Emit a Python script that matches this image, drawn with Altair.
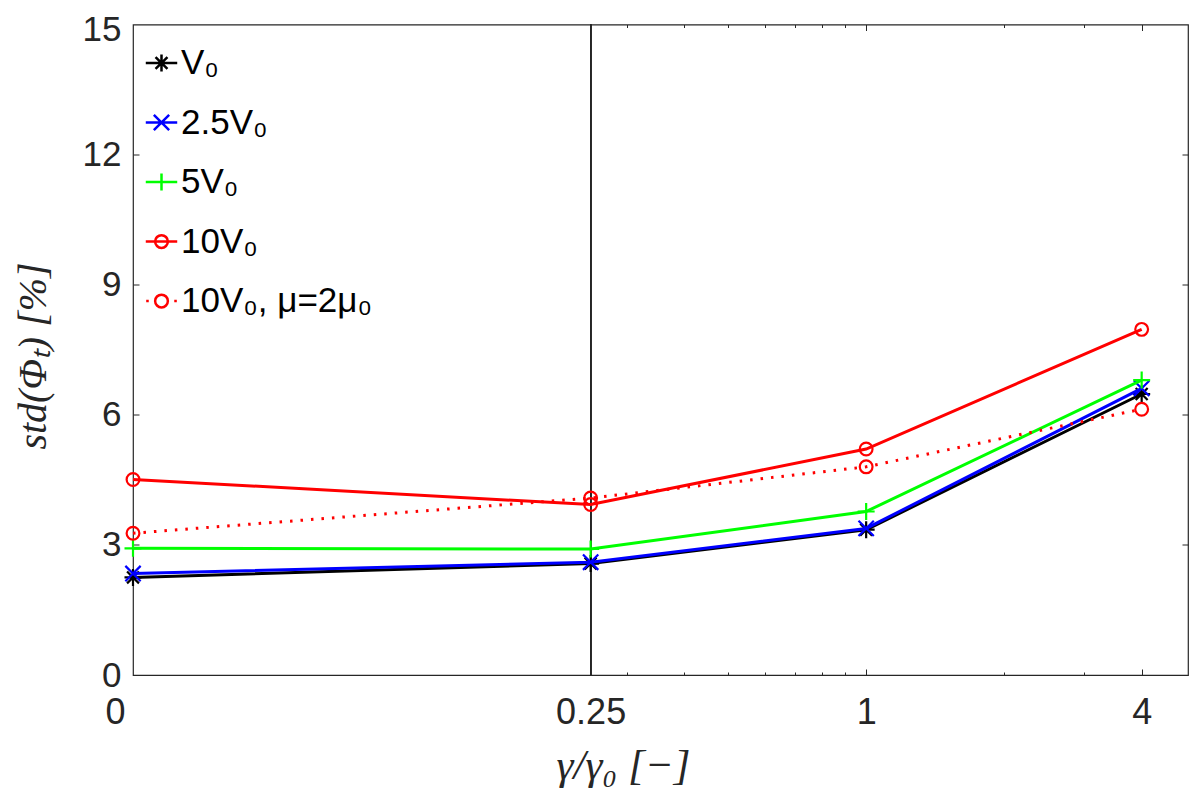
import altair as alt
import pandas as pd

# ---- data ----
series = ["V₀", "2.5V₀", "5V₀", "10V₀", "10V₀, μ=2μ₀"]
x_vals = [0.025, 0.25, 1, 4]          # first position is the "0" case drawn at the left edge
x_labels = ["0", "0.25", "1", "4"]
y_v0 = [2.25, 2.57, 3.35, 6.48]
y_25v0 = [2.34, 2.60, 3.38, 6.61]
y_5v0 = [2.92, 2.905, 3.77, 6.80]
y_10v0 = [4.51, 3.93, 5.21, 7.97]
y_10v0_mu = [3.27, 4.08, 4.80, 6.13]
colors = ["#000000", "#0000ff", "#00ff00", "#ff0000", "#ff0000"]
y_ticks = [0, 3, 6, 9, 12, 15]
x_major_ticks = [1, 4]
x_minor_ticks = [0.3, 0.4, 0.5, 0.6, 0.7, 0.8, 0.9, 2, 3]
y_inner_ticks = [3, 6, 9, 12]

all_y = [y_v0, y_25v0, y_5v0, y_10v0, y_10v0_mu]
rows = []
for s, ys in zip(series, all_y):
    for x, y in zip(x_vals, ys):
        rows.append({"series": s, "x": x, "y": y})
df = pd.DataFrame(rows)

# ---- styling ----
circle = "M0.75,0A0.75,0.75,0,1,1,-0.75,0A0.75,0.75,0,1,1,0.75,0Z"
marker_paths = [
    "M0,-1L0,1M-1,0L1,0M-0.7,-0.7L0.7,0.7M-0.7,0.7L0.7,-0.7",
    "M-0.9,-0.9L0.9,0.9M-0.9,0.9L0.9,-0.9",
    "M0,-1L0,1M-1,0L1,0",
    circle,
    circle,
]
seg = "M-1.85,0L1.85,0"
dots = "M-1.8,0L-1.5,0M1.5,0L1.8,0"
legend_paths = [seg + p for p in marker_paths[:4]] + [dots + marker_paths[4]]
dashes = [None, None, None, None, [2.5, 8]]

xscale = alt.Scale(type="log", domain=[0.025, 5.05])
yscale = alt.Scale(domain=[0, 15], nice=False, zero=False)
cscale = alt.Scale(domain=series, range=colors)
AX = "#262626"

lab_expr = ""
for v, l in zip(x_vals, x_labels):
    lab_expr += f"abs(datum.value - {v}) < 1e-9 ? '{l}' : "
lab_expr += "''"

x_label_axis = alt.Axis(
    values=x_vals, labelExpr=lab_expr, ticks=False, domain=False, grid=False,
    labelFont="Liberation Sans", labelFontSize=36, labelColor=AX, labelPadding=20,
    labelFlush=False, labelOverlap=False,
    labelOffset={"condition": {"test": "datum.value < 0.1", "value": -18}, "value": 0},
    title="γ/γ₀ [−]", titleFont="Liberation Serif", titleFontStyle="italic",
    titleFontWeight="normal", titleFontSize=43, titleColor=AX,
    titleX=490, titleY=90, titleBaseline="middle", titleAlign="center", orient="bottom",
)
y_label_axis = alt.Axis(
    values=y_ticks, ticks=False, domain=False, grid=False,
    labelFont="Liberation Sans", labelFontSize=35, labelColor=AX, labelPadding=12,
    labelFlush=False, labelOverlap=False,
    labelOffset={"condition": {"test": "datum.value > 14", "value": 5}, "value": 0},
    title="std(Φₜ) [%]", titleFont="Liberation Serif", titleFontStyle="italic",
    titleFontWeight="normal", titleFontSize=40, titleColor=AX,
    titleX=-100, titleY=331, titleAngle=270, titleBaseline="middle", titleAlign="center",
    orient="left",
)


def tick_axis(orient, values, size):
    return alt.Axis(orient=orient, values=values, labels=False, domain=False, grid=False,
                    ticks=True, tickSize=size, tickColor=AX, tickWidth=1, offset=-size,
                    title=None)


base = alt.Chart(df)
layers = []

vline = base.mark_rule(color=AX, strokeWidth=1).encode(
    x=alt.X(datum=0.25, type="quantitative", scale=xscale, axis=x_label_axis),
    y=alt.Y(datum=0, type="quantitative", scale=yscale, axis=y_label_axis),
    y2=alt.Y2(datum=15),
)
layers.append(vline)

for i, s in enumerate(series):
    sub = base.transform_filter(alt.datum.series == s)
    line_kw = dict(strokeWidth=3, color=colors[i])
    if dashes[i]:
        line_kw["strokeDash"] = dashes[i]
    ln = sub.mark_line(**line_kw).encode(
        x=alt.X("x:Q", scale=xscale, axis=None),
        y=alt.Y("y:Q", scale=yscale, axis=None),
        order="x:Q",
    )
    pt = sub.mark_point(shape=marker_paths[i], color=colors[i], filled=False,
                        size=289, strokeWidth=2.2, opacity=1).encode(
        x=alt.X("x:Q", scale=xscale, axis=None),
        y=alt.Y("y:Q", scale=yscale, axis=None),
    )
    layers += [ln, pt]

leg = dict(title=None, orient="none", legendX=11, legendY=21, padding=0,
           labelFont="Liberation Sans", labelFontSize=35, labelColor="#000000",
           labelOffset=2, rowPadding=23.5, symbolSize=289, symbolStrokeWidth=2.5,
           symbolOpacity=1, symbolFillColor="transparent", labelLimit=600)

legend_layer = base.mark_point(filled=False, strokeWidth=2.5, size=289, opacity=0).encode(
    x=alt.X("x:Q", scale=xscale, axis=tick_axis("bottom", x_major_ticks, 6)),
    y=alt.Y("y:Q", scale=yscale, axis=tick_axis("left", y_inner_ticks, 6)),
    color=alt.Color("series:N", scale=cscale, legend=alt.Legend(**leg)),
    shape=alt.Shape("series:N", scale=alt.Scale(domain=series, range=legend_paths),
                    legend=alt.Legend(**leg)),
)
layers.append(legend_layer)

t1 = base.mark_point(opacity=0).encode(
    x=alt.X("x:Q", scale=xscale, axis=tick_axis("bottom", x_minor_ticks, 3)),
    y=alt.Y("y:Q", scale=yscale, axis=tick_axis("right", y_inner_ticks, 6)),
)
t2 = base.mark_point(opacity=0).encode(
    x=alt.X("x:Q", scale=xscale, axis=tick_axis("top", x_major_ticks, 6)),
    y=alt.Y("y:Q", scale=yscale, axis=None),
)
t3 = base.mark_point(opacity=0).encode(
    x=alt.X("x:Q", scale=xscale, axis=tick_axis("top", x_minor_ticks, 3)),
    y=alt.Y("y:Q", scale=yscale, axis=None),
)
layers += [t1, t2, t3]

chart = alt.layer(*layers).resolve_axis(
    x="independent", y="independent"
).properties(
    width=1055, height=650.5,
    autosize=alt.AutoSizeParams(type="none"),
    padding={"left": 125, "top": 16.5, "right": 4, "bottom": 120},
    background="white",
).configure_view(stroke=AX, strokeWidth=1.2)

chart.save("out.html", embed_options={"renderer": "svg", "actions": False})
